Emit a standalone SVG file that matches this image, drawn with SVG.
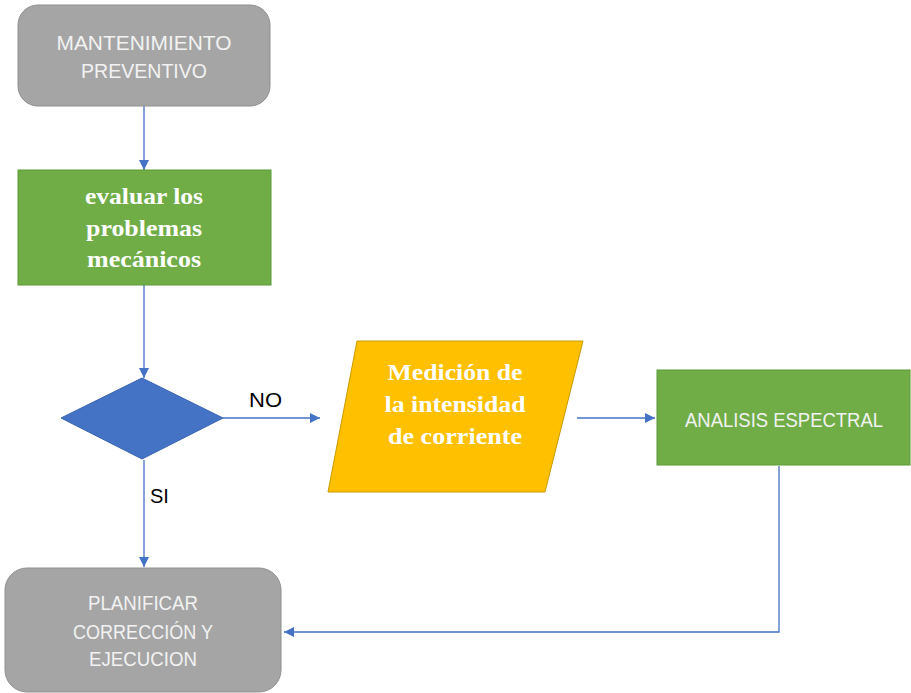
<svg xmlns="http://www.w3.org/2000/svg" width="911" height="693" viewBox="0 0 911 693">
  <style>
    .gray { fill: #a5a5a5; stroke: #8f8f8f; stroke-width: 1; }
    .green { fill: #70ad47; stroke: #5b9a37; stroke-width: 1; }
    .io { fill: #ffc000; stroke: #c99a00; stroke-width: 1; }
    .dec { fill: #4472c4; stroke: #3a64b0; stroke-width: 1; }
    .sans { font-family: "Liberation Sans", Arial, sans-serif; font-size: 21px; fill: #f2f2f2; text-anchor: middle; }
    .serif { font-family: "Liberation Serif", "Times New Roman", serif; font-weight: bold; font-size: 24px; fill: #ffffff; text-anchor: middle; }
    .lbl { font-family: "Liberation Sans", Arial, sans-serif; font-size: 20px; fill: #000000; }
    .conn { fill: none; stroke: #4472c4; stroke-width: 1.3; }
  </style>
  <defs>
    <marker id="arrow" viewBox="0 0 10 10" refX="10" refY="5" markerWidth="10" markerHeight="10" markerUnits="userSpaceOnUse" orient="auto">
      <path d="M0,0 L10,5 L0,10 z" fill="#4472c4"/>
    </marker>
  </defs>
  <rect width="911" height="693" fill="#ffffff"/>

  <g id="connectors">
    <line class="conn" x1="144" y1="106" x2="144" y2="170" marker-end="url(#arrow)"/>
    <line class="conn" x1="144" y1="285" x2="144" y2="378" marker-end="url(#arrow)"/>
    <line class="conn" x1="223" y1="418" x2="320" y2="418" marker-end="url(#arrow)"/>
    <line class="conn" x1="144" y1="460" x2="144" y2="567" marker-end="url(#arrow)"/>
    <line class="conn" x1="577" y1="418" x2="655" y2="418" marker-end="url(#arrow)"/>
    <polyline class="conn" points="779,466 779,632 284,632" marker-end="url(#arrow)"/>
    <text class="lbl" x="249" y="407" textLength="33" lengthAdjust="spacingAndGlyphs">NO</text>
    <text class="lbl" x="150" y="503">SI</text>
  </g>

  <g id="mantenimiento">
    <rect class="gray" x="18" y="5" width="252" height="101" rx="20"/>
    <text class="sans" x="144" y="50" textLength="175" lengthAdjust="spacingAndGlyphs">MANTENIMIENTO</text>
    <text class="sans" x="144" y="78" textLength="126" lengthAdjust="spacingAndGlyphs">PREVENTIVO</text>
  </g>

  <g id="evaluar">
    <rect class="green" x="18" y="170" width="253" height="115"/>
    <text class="serif" x="144" y="204" textLength="118" lengthAdjust="spacingAndGlyphs">evaluar los</text>
    <text class="serif" x="144" y="236" textLength="116" lengthAdjust="spacingAndGlyphs">problemas</text>
    <text class="serif" x="144" y="267" textLength="114" lengthAdjust="spacingAndGlyphs">mecánicos</text>
  </g>

  <g id="decision">
    <polygon class="dec" points="142,378 223,418 142,459 61,418"/>
  </g>

  <g id="medicion">
    <polygon class="io" points="357,341 583,341 545,492 328,492"/>
    <text class="serif" x="455" y="380" textLength="135" lengthAdjust="spacingAndGlyphs">Medición de</text>
    <text class="serif" x="455" y="412" textLength="141" lengthAdjust="spacingAndGlyphs">la intensidad</text>
    <text class="serif" x="455" y="444" textLength="134" lengthAdjust="spacingAndGlyphs">de corriente</text>
  </g>

  <g id="analisis">
    <rect class="green" x="657" y="370" width="253" height="95"/>
    <text class="sans" x="784" y="427" textLength="198" lengthAdjust="spacingAndGlyphs">ANALISIS ESPECTRAL</text>
  </g>

  <g id="planificar">
    <rect class="gray" x="5" y="568" width="276" height="124" rx="22"/>
    <text class="sans" x="143" y="610" textLength="110" lengthAdjust="spacingAndGlyphs">PLANIFICAR</text>
    <text class="sans" x="143" y="639" textLength="140" lengthAdjust="spacingAndGlyphs">CORRECCIÓN Y</text>
    <text class="sans" x="143" y="666" textLength="108" lengthAdjust="spacingAndGlyphs">EJECUCION</text>
  </g>
</svg>
